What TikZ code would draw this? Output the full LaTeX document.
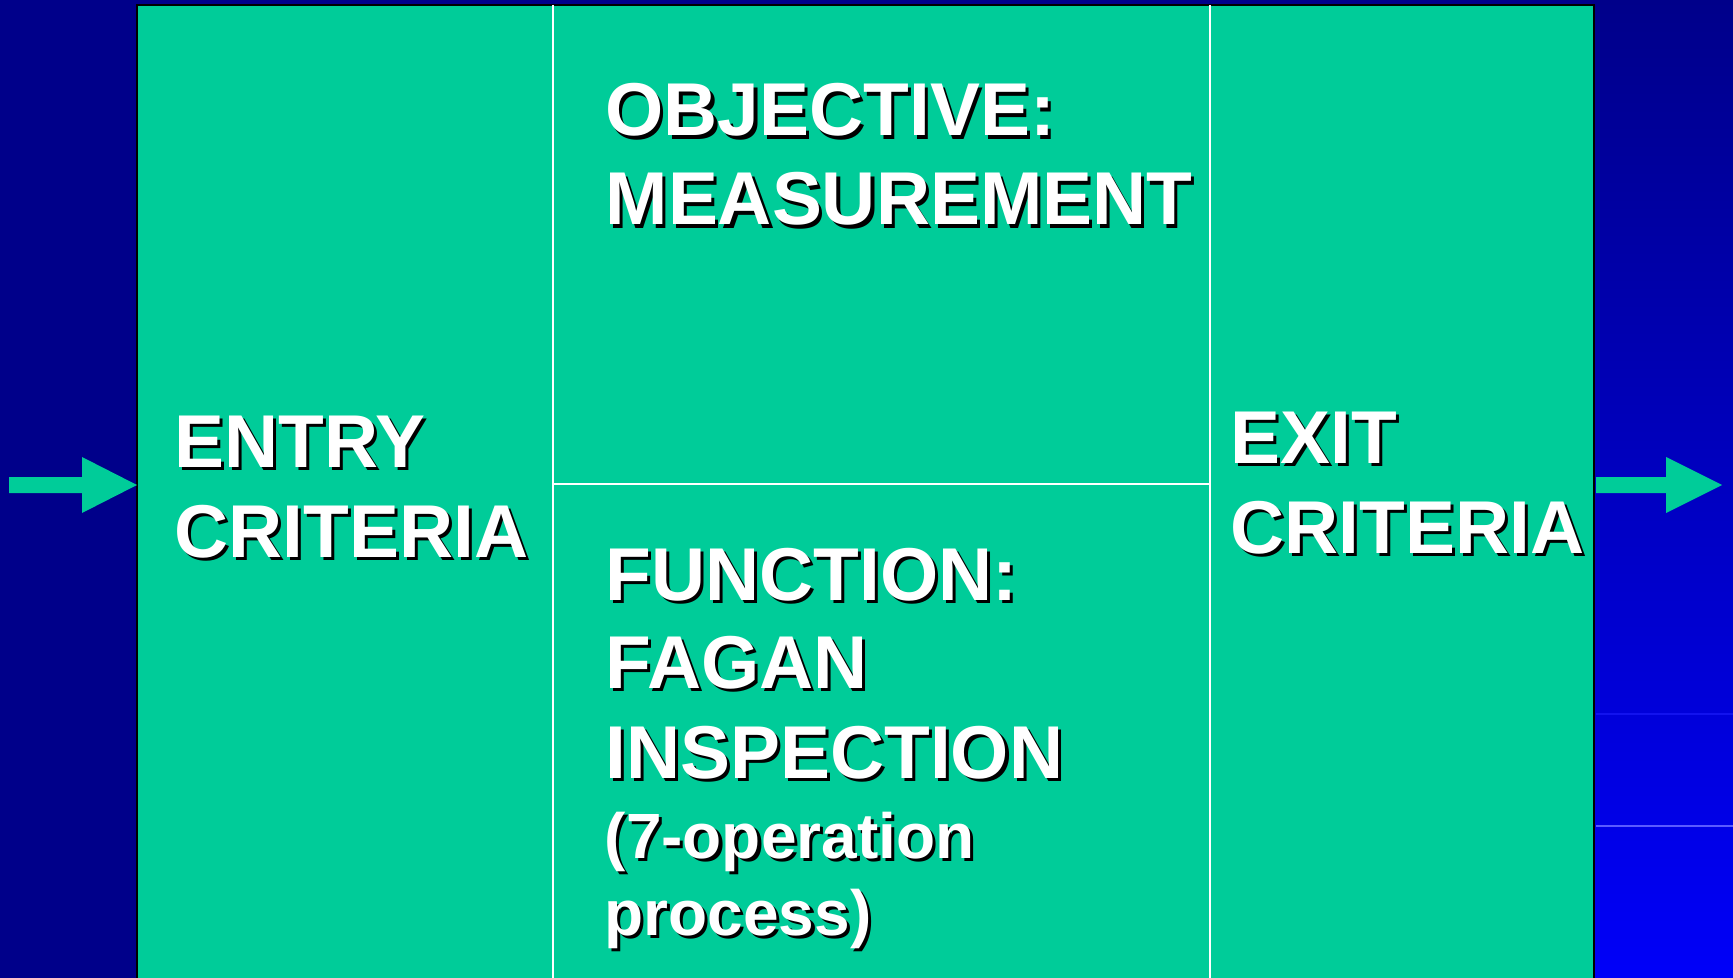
\documentclass[tikz,border=0pt]{standalone}
\usepackage{fontspec}
\setmainfont{Liberation Sans}
\definecolor{navybg}{RGB}{0,0,138}
\definecolor{brightbg}{RGB}{0,0,248}
\definecolor{panelgreen}{RGB}{0,204,153}
\definecolor{bandA}{RGB}{18,18,238}
\definecolor{bandB}{RGB}{90,90,255}
\newcommand\shtext[5]{%
  \node[#1, text=black, xshift=0.9pt, yshift=-0.9pt] at (#3,#4) {#5};
  \node[#1, text=white] (#2) at (#3,#4) {#5};}
\tikzset{
  bigtxt/.style={anchor=base west, inner sep=0pt, font=\fontsize{21.3}{25}\selectfont\bfseries},
  smalltxt/.style={anchor=base west, inner sep=0pt, font=\fontsize{18.2}{22}\selectfont\bfseries},
  divider/.style={draw=white, line width=0.45pt},
  flowarrow/.style={fill=panelgreen}
}
\begin{document}
\begin{tikzpicture}[x=0.1mm,y=-0.1mm]
\useasboundingbox (0,0) rectangle (1733,978);
\clip (0,0) rectangle (1733,978);
% background
\fill[navybg] (0,0) rectangle (1733,978);
\shade[top color=navybg, bottom color=brightbg] (1594,0) rectangle (1733,978);
\draw[bandA, line width=0.3pt] (1596,714) -- (1733,714);
\draw[bandB, line width=0.3pt] (1596,826) -- (1733,826);
% panel
\coordinate (pTL) at (137,5);
\coordinate (pBR) at (1594,1000);
\draw[fill=panelgreen, draw=black, line width=0.6pt] (pTL) rectangle (pBR);
\coordinate (v1t) at (553,5);  \coordinate (v1b) at (553,1000);
\coordinate (v2t) at (1210,5); \coordinate (v2b) at (1210,1000);
\draw[divider] (v1t) -- (v1b);
\draw[divider] (v2t) -- (v2b);
\draw[divider] (553,484) -- (1210,484);
% arrows
\fill[flowarrow] (9,477) -- (82,477) -- (82,457) -- (137,485) -- (82,513) -- (82,493) -- (9,493) -- cycle;
\fill[flowarrow] (1596,477) -- (1666,477) -- (1666,457) -- (1722,485) -- (1666,513) -- (1666,493) -- (1596,493) -- cycle;
% texts
\shtext{bigtxt}{entry1}{174}{467}{ENTRY}
\shtext{bigtxt}{entry2}{174}{557}{CRITERIA}
\shtext{bigtxt}{exit1}{1230}{463}{EXIT}
\shtext{bigtxt}{exit2}{1230}{553}{CRITERIA}
\shtext{bigtxt}{obj1}{605}{136}{OBJECTIVE:}
\shtext{bigtxt}{obj2}{605}{225}{MEASUREMENT}
\shtext{bigtxt}{fun1}{605}{600}{FUNCTION:}
\shtext{bigtxt}{fun2}{605}{688}{FAGAN}
\shtext{bigtxt}{fun3}{605}{778}{INSPECTION}
\shtext{smalltxt}{fun4}{604}{858}{(7-operation}
\shtext{smalltxt}{fun5}{604}{935}{process)}
\end{tikzpicture}
\end{document}
